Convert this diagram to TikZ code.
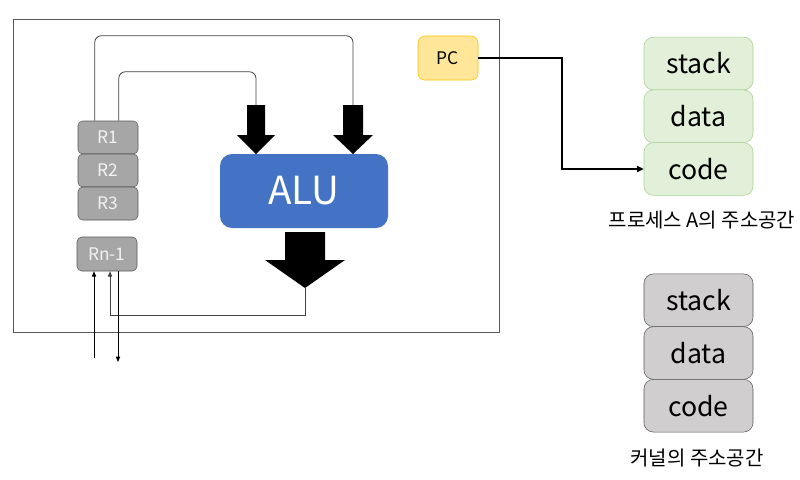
\documentclass[tikz,border=0pt]{standalone}
\usepackage{fontspec}
\setmainfont{Noto Sans CJK KR}
\usetikzlibrary{arrows.meta}
\definecolor{regfill}{HTML}{A6A6A6}
\definecolor{regline}{HTML}{595959}
\definecolor{alublue}{HTML}{4472C4}
\definecolor{pcfill}{HTML}{FFE699}
\definecolor{pcline}{HTML}{FFC000}
\definecolor{gfill}{HTML}{E2F0D9}
\definecolor{gline}{HTML}{A9D18E}
\definecolor{kfill}{HTML}{D0CECE}
\definecolor{kline}{HTML}{595959}
\definecolor{wire}{HTML}{404040}
\tikzset{
  reg/.style={draw=regline, fill=regfill, rounded corners=3.5pt, minimum width=45pt, minimum height=24.75pt, inner sep=0pt, text=white!95!black, font=\fontsize{13}{15}\selectfont},
  seg/.style={rounded corners=7pt, minimum width=81.75pt, minimum height=39.5pt, inner sep=0pt, font=\fontsize{20}{23}\selectfont},
  gseg/.style={seg, draw=gline, fill=gfill},
  kseg/.style={seg, draw=kline, fill=kfill},
  thinwire/.style={draw=wire, line width=0.6pt},
  smalltip/.style={-{Triangle[length=4pt,width=3.2pt]}},
  lbl/.style={font=\fontsize{15}{18}\selectfont, inner sep=0pt}
}
\begin{document}
\begin{tikzpicture}[x=0.75pt,y=-0.75pt]
\useasboundingbox[fill=white] (0,0) rectangle (800,479);
% frame
\draw[draw=regline, line width=0.75pt] (13,19) rectangle (499,332);
% registers
\node[reg] (R1) at (108,137.5) {R1};
\node[reg] (R2) at (108,170.5) {R2};
\node[reg] (R3) at (108,203.5) {R3};
\node[reg, minimum height=25.5pt] (Rn) at (107,254) {Rn-1};
% ALU
\node[fill=alublue, rounded corners=9pt, minimum width=126pt, minimum height=55.5pt, inner sep=0pt, text=white, font=\fontsize{29}{34}\selectfont] (ALU) at (304,191) {ALU};
% block arrows
\fill[black] (247,105) -- (265,105) -- (265,135) -- (275,135) -- (256,154) -- (237,135) -- (247,135) -- cycle;
\fill[black] (343,105) -- (363,105) -- (363,135) -- (373,135) -- (353,154) -- (333,135) -- (343,135) -- cycle;
\fill[black] (285,232) -- (325,232) -- (325,260) -- (345,260) -- (305,288) -- (265,260) -- (285,260) -- cycle;
\coordinate (outtip) at (305,288);
\coordinate (inL) at (256,105);
\coordinate (inR) at (353,105);
% wires from R1 to ALU inputs
\draw[thinwire, rounded corners=5pt] (R1.north west) ++(17,0) -- ++(0,-85) -| (inR);
\draw[thinwire, rounded corners=5pt] (R1.north west) ++(41,0) -- ++(0,-49) -| (inL);
% output back to Rn-1
\coordinate (loopc) at (110,315);
\draw[thinwire, smalltip] (outtip) |- (loopc) -- (loopc |- Rn.south);
% external lines
\coordinate (ext1) at (94,358);
\coordinate (ext2) at (118,362);
\draw[black, line width=0.6pt, smalltip] (ext1) -- (ext1 |- Rn.south);
\draw[black, line width=0.6pt, smalltip] (ext2 |- Rn.south) -- (ext2);
% PC
\node[draw=pcline, fill=pcfill, rounded corners=5pt, minimum width=45pt, minimum height=33pt, inner sep=0pt, font=\fontsize{13}{15}\selectfont] (PC) at (448,58) {PC};
% process A address space
\node[gseg] (gs) at (698.5,63.5) {stack};
\node[gseg] (gd) at (698.5,116.25) {data};
\node[gseg] (gc) at (698.5,169) {code};
\node[lbl] (la) at (702,220) {프로세스 A의 주소공간};
% PC arrow
\coordinate (pcbend) at (562,58);
\draw[black, line width=1.5pt, -{Triangle[length=5pt,width=4.5pt]}] (PC.east) -- (pcbend) |- (gc.west);
% kernel address space
\node[kseg] (ks) at (698.5,300.3) {stack};
\node[kseg] (kd) at (698.5,353) {data};
\node[kseg] (kc) at (698.5,405.7) {code};
\node[lbl] (lk) at (697,458) {커널의 주소공간};
\end{tikzpicture}
\end{document}
